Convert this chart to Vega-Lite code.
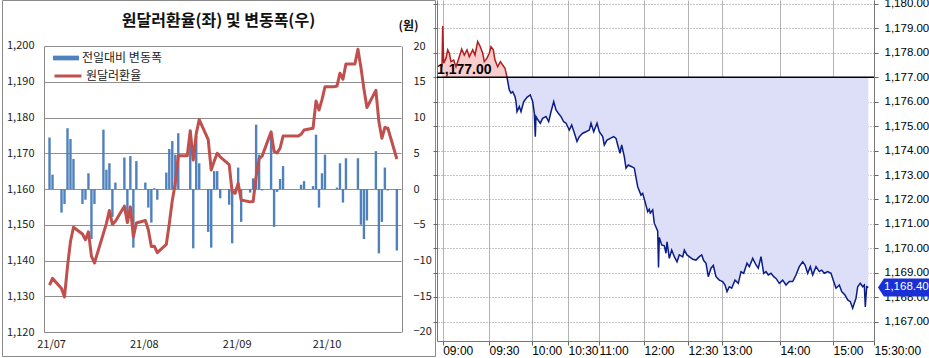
{
  "$schema": "https://vega.github.io/schema/vega-lite/v6.json",
  "background": "white",
  "padding": {"left": 1, "top": -3, "right": 0, "bottom": 0},
  "bounds": "flush",
  "spacing": 2,
  "config": {"view": {"stroke": null}},
  "datasets": {
    "krw": [
      {"d": "2021-07-01T12:00:00Z", "r": 1133.1, "c": 7.2},
      {"d": "2021-07-02T12:00:00Z", "r": 1135.0, "c": 2.0},
      {"d": "2021-07-05T12:00:00Z", "r": 1132.2, "c": -3.3},
      {"d": "2021-07-06T12:00:00Z", "r": 1129.8, "c": -2.1},
      {"d": "2021-07-07T12:00:00Z", "r": 1138.3, "c": 8.5},
      {"d": "2021-07-08T12:00:00Z", "r": 1145.3, "c": 7.0},
      {"d": "2021-07-09T12:00:00Z", "r": 1149.3, "c": 4.2},
      {"d": "2021-07-12T12:00:00Z", "r": 1147.4, "c": -2.1},
      {"d": "2021-07-13T12:00:00Z", "r": 1145.8, "c": -1.5},
      {"d": "2021-07-14T12:00:00Z", "r": 1148.0, "c": 2.2},
      {"d": "2021-07-15T12:00:00Z", "r": 1141.2, "c": -7.0},
      {"d": "2021-07-16T12:00:00Z", "r": 1139.3, "c": -2.1},
      {"d": "2021-07-19T12:00:00Z", "r": 1147.6, "c": 8.3},
      {"d": "2021-07-20T12:00:00Z", "r": 1150.4, "c": 2.7},
      {"d": "2021-07-21T12:00:00Z", "r": 1154.0, "c": 3.6},
      {"d": "2021-07-22T12:00:00Z", "r": 1150.1, "c": -3.9},
      {"d": "2021-07-23T12:00:00Z", "r": 1151.0, "c": 0.9},
      {"d": "2021-07-26T12:00:00Z", "r": 1155.2, "c": 4.4},
      {"d": "2021-07-27T12:00:00Z", "r": 1150.6, "c": -4.6},
      {"d": "2021-07-28T12:00:00Z", "r": 1155.0, "c": 4.6},
      {"d": "2021-07-29T12:00:00Z", "r": 1146.6, "c": -8.2},
      {"d": "2021-07-30T12:00:00Z", "r": 1150.5, "c": 3.9},
      {"d": "2021-08-02T12:00:00Z", "r": 1151.2, "c": 0.9},
      {"d": "2021-08-03T12:00:00Z", "r": 1148.6, "c": -2.6},
      {"d": "2021-08-04T12:00:00Z", "r": 1143.9, "c": -4.7},
      {"d": "2021-08-05T12:00:00Z", "r": 1144.0, "c": 0.1},
      {"d": "2021-08-06T12:00:00Z", "r": 1142.2, "c": -1.5},
      {"d": "2021-08-09T12:00:00Z", "r": 1144.5, "c": 2.3},
      {"d": "2021-08-10T12:00:00Z", "r": 1150.3, "c": 5.6},
      {"d": "2021-08-11T12:00:00Z", "r": 1156.8, "c": 6.7},
      {"d": "2021-08-12T12:00:00Z", "r": 1161.5, "c": 4.8},
      {"d": "2021-08-13T12:00:00Z", "r": 1169.3, "c": 7.8},
      {"d": "2021-08-16T12:00:00Z", "r": 1169.3},
      {"d": "2021-08-17T12:00:00Z", "r": 1176.3, "c": 7.0},
      {"d": "2021-08-18T12:00:00Z", "r": 1168.1, "c": -8.3},
      {"d": "2021-08-19T12:00:00Z", "r": 1175.5, "c": 7.4},
      {"d": "2021-08-20T12:00:00Z", "r": 1179.4, "c": 3.6},
      {"d": "2021-08-23T12:00:00Z", "r": 1173.8, "c": -6.0},
      {"d": "2021-08-24T12:00:00Z", "r": 1165.3, "c": -8.2},
      {"d": "2021-08-25T12:00:00Z", "r": 1167.8, "c": 2.5},
      {"d": "2021-08-26T12:00:00Z", "r": 1170.0, "c": 2.5},
      {"d": "2021-08-27T12:00:00Z", "r": 1169.0, "c": -1.3},
      {"d": "2021-08-30T12:00:00Z", "r": 1166.8, "c": -2.2},
      {"d": "2021-08-31T12:00:00Z", "r": 1159.2, "c": -7.6},
      {"d": "2021-09-01T12:00:00Z", "r": 1158.8, "c": -0.5},
      {"d": "2021-09-02T12:00:00Z", "r": 1161.6, "c": 3.0},
      {"d": "2021-09-03T12:00:00Z", "r": 1156.9, "c": -4.6},
      {"d": "2021-09-06T12:00:00Z", "r": 1156.4, "c": -0.5},
      {"d": "2021-09-07T12:00:00Z", "r": 1156.5, "c": 1.5},
      {"d": "2021-09-08T12:00:00Z", "r": 1163.5, "c": 9.0},
      {"d": "2021-09-09T12:00:00Z", "r": 1168.5, "c": 4.8},
      {"d": "2021-09-10T12:00:00Z", "r": 1169.2, "c": -0.2},
      {"d": "2021-09-13T12:00:00Z", "r": 1176.0, "c": 7.8},
      {"d": "2021-09-14T12:00:00Z", "r": 1170.5, "c": -5.3},
      {"d": "2021-09-15T12:00:00Z", "r": 1170.1, "c": -0.4},
      {"d": "2021-09-16T12:00:00Z", "r": 1171.4, "c": 1.4},
      {"d": "2021-09-17T12:00:00Z", "r": 1174.8, "c": 3.2},
      {"d": "2021-09-20T12:00:00Z", "r": 1174.8},
      {"d": "2021-09-21T12:00:00Z", "r": 1174.8},
      {"d": "2021-09-22T12:00:00Z", "r": 1174.8},
      {"d": "2021-09-23T12:00:00Z", "r": 1175.3, "c": 0.6},
      {"d": "2021-09-24T12:00:00Z", "r": 1176.5, "c": 1.1},
      {"d": "2021-09-27T12:00:00Z", "r": 1177.0, "c": 0.4},
      {"d": "2021-09-28T12:00:00Z", "r": 1184.6, "c": 7.6},
      {"d": "2021-09-29T12:00:00Z", "r": 1182.1, "c": -2.6},
      {"d": "2021-09-30T12:00:00Z", "r": 1185.0, "c": 2.2},
      {"d": "2021-10-01T12:00:00Z", "r": 1188.6, "c": 4.8},
      {"d": "2021-10-04T12:00:00Z", "r": 1188.6},
      {"d": "2021-10-05T12:00:00Z", "r": 1188.8, "c": 0.2},
      {"d": "2021-10-06T12:00:00Z", "r": 1192.4, "c": 3.6},
      {"d": "2021-10-07T12:00:00Z", "r": 1190.7, "c": -1.9},
      {"d": "2021-10-08T12:00:00Z", "r": 1195.0, "c": 4.3},
      {"d": "2021-10-11T12:00:00Z", "r": 1195.0},
      {"d": "2021-10-12T12:00:00Z", "r": 1199.1, "c": 4.3},
      {"d": "2021-10-13T12:00:00Z", "r": 1194.0, "c": -5.0},
      {"d": "2021-10-14T12:00:00Z", "r": 1188.0, "c": -7.0},
      {"d": "2021-10-15T12:00:00Z", "r": 1182.8, "c": -4.4},
      {"d": "2021-10-18T12:00:00Z", "r": 1187.6, "c": 5.3},
      {"d": "2021-10-19T12:00:00Z", "r": 1178.8, "c": -9.0},
      {"d": "2021-10-20T12:00:00Z", "r": 1174.2, "c": -4.6},
      {"d": "2021-10-21T12:00:00Z", "r": 1177.2, "c": 3.0},
      {"d": "2021-10-22T12:00:00Z", "r": 1177.0, "c": -0.2},
      {"d": "2021-10-25T12:00:00Z", "r": 1168.4, "c": -8.6}
    ],
    "fx": [
      {"t": 5.0, "v": 1177.43, "s": "up"}, {"t": 5.7, "v": 1179.10, "s": "up"}, {"t": 6.7, "v": 1177.57, "s": "up"},
      {"t": 9.0, "v": 1177.78, "s": "up"}, {"t": 10.7, "v": 1178.12, "s": "up"}, {"t": 12.3, "v": 1177.98, "s": "up"},
      {"t": 14.0, "v": 1177.64, "s": "up"}, {"t": 16.7, "v": 1177.70, "s": "up"}, {"t": 19.0, "v": 1177.43, "s": "up"},
      {"t": 22.3, "v": 1177.84, "s": "up"}, {"t": 24.7, "v": 1178.15, "s": "up"}, {"t": 27.3, "v": 1177.91, "s": "up"},
      {"t": 30.0, "v": 1178.12, "s": "up"}, {"t": 32.3, "v": 1177.84, "s": "up"}, {"t": 35.7, "v": 1178.12, "s": "up"},
      {"t": 38.0, "v": 1177.91, "s": "up"}, {"t": 40.7, "v": 1178.46, "s": "up"}, {"t": 43.3, "v": 1178.25, "s": "up"},
      {"t": 45.7, "v": 1177.98, "s": "up"}, {"t": 47.3, "v": 1177.64, "s": "up"}, {"t": 50.0, "v": 1177.78, "s": "up"},
      {"t": 52.3, "v": 1177.98, "s": "up"}, {"t": 54.0, "v": 1178.25, "s": "up"}, {"t": 56.3, "v": 1178.12, "s": "up"},
      {"t": 58.0, "v": 1177.70, "s": "up"}, {"t": 60.7, "v": 1177.43, "s": "up"}, {"t": 63.3, "v": 1177.64, "s": "up"},
      {"t": 65.7, "v": 1177.50, "s": "up"}, {"t": 68.0, "v": 1177.37, "s": "up"}, {"t": 70.0, "v": 1177.0, "s": "up"},
      {"t": 70.0, "v": 1177.0, "s": "dn"}, {"t": 72.3, "v": 1176.48, "s": "dn"}, {"t": 74.0, "v": 1176.35, "s": "dn"},
      {"t": 75.7, "v": 1176.41, "s": "dn"}, {"t": 78.0, "v": 1176.21, "s": "dn"}, {"t": 79.0, "v": 1176.0, "s": "dn"},
      {"t": 80.0, "v": 1175.59, "s": "dn"}, {"t": 82.3, "v": 1175.80, "s": "dn"}, {"t": 84.0, "v": 1175.59, "s": "dn"},
      {"t": 86.7, "v": 1176.0, "s": "dn"}, {"t": 90.0, "v": 1176.18, "s": "dn"}, {"t": 93.3, "v": 1176.28, "s": "dn"},
      {"t": 95.7, "v": 1176.0, "s": "dn"}, {"t": 97.3, "v": 1175.53, "s": "dn"}, {"t": 98.3, "v": 1174.57, "s": "dn"},
      {"t": 99.0, "v": 1175.39, "s": "dn"}, {"t": 101.0, "v": 1175.25, "s": "dn"}, {"t": 103.3, "v": 1175.12, "s": "dn"},
      {"t": 105.7, "v": 1175.32, "s": "dn"}, {"t": 109.0, "v": 1175.39, "s": "dn"}, {"t": 111.7, "v": 1175.18, "s": "dn"},
      {"t": 114.0, "v": 1175.59, "s": "dn"}, {"t": 116.7, "v": 1176.0, "s": "dn"}, {"t": 119.0, "v": 1175.66, "s": "dn"},
      {"t": 121.3, "v": 1175.53, "s": "dn"}, {"t": 124.0, "v": 1175.39, "s": "dn"}, {"t": 126.7, "v": 1175.18, "s": "dn"},
      {"t": 129.0, "v": 1175.12, "s": "dn"}, {"t": 132.3, "v": 1174.84, "s": "dn"}, {"t": 134.7, "v": 1175.05, "s": "dn"},
      {"t": 138.0, "v": 1174.64, "s": "dn"}, {"t": 140.0, "v": 1174.37, "s": "dn"}, {"t": 142.3, "v": 1174.57, "s": "dn"},
      {"t": 145.7, "v": 1174.71, "s": "dn"}, {"t": 149.0, "v": 1174.77, "s": "dn"}, {"t": 152.3, "v": 1174.84, "s": "dn"},
      {"t": 154.0, "v": 1175.12, "s": "dn"}, {"t": 156.7, "v": 1174.77, "s": "dn"}, {"t": 160.0, "v": 1175.12, "s": "dn"},
      {"t": 162.3, "v": 1174.77, "s": "dn"}, {"t": 165.7, "v": 1174.57, "s": "dn"}, {"t": 167.3, "v": 1174.23, "s": "dn"},
      {"t": 170.0, "v": 1174.43, "s": "dn"}, {"t": 173.3, "v": 1174.50, "s": "dn"}, {"t": 176.7, "v": 1174.57, "s": "dn"},
      {"t": 179.0, "v": 1174.50, "s": "dn"}, {"t": 180.7, "v": 1174.23, "s": "dn"}, {"t": 183.0, "v": 1173.89, "s": "dn"},
      {"t": 184.7, "v": 1174.23, "s": "dn"}, {"t": 187.3, "v": 1173.75, "s": "dn"}, {"t": 189.0, "v": 1173.28, "s": "dn"},
      {"t": 191.3, "v": 1173.41, "s": "dn"}, {"t": 194.7, "v": 1173.34, "s": "dn"}, {"t": 197.3, "v": 1173.28, "s": "dn"},
      {"t": 200.7, "v": 1172.52, "s": "dn"}, {"t": 204.0, "v": 1172.18, "s": "dn"}, {"t": 205.7, "v": 1172.25, "s": "dn"},
      {"t": 208.0, "v": 1171.91, "s": "dn"}, {"t": 210.7, "v": 1171.50, "s": "dn"}, {"t": 212.3, "v": 1171.60, "s": "dn"},
      {"t": 213.3, "v": 1171.44, "s": "dn"}, {"t": 215.7, "v": 1171.57, "s": "dn"}, {"t": 217.3, "v": 1171.03, "s": "dn"},
      {"t": 220.7, "v": 1170.70, "s": "dn"}, {"t": 221.5, "v": 1169.22, "s": "dn"}, {"t": 222.3, "v": 1170.45, "s": "dn"},
      {"t": 224.7, "v": 1170.14, "s": "dn"}, {"t": 227.3, "v": 1170.10, "s": "dn"}, {"t": 229.0, "v": 1169.80, "s": "dn"},
      {"t": 230.0, "v": 1170.27, "s": "dn"}, {"t": 232.3, "v": 1169.59, "s": "dn"}, {"t": 234.7, "v": 1169.93, "s": "dn"},
      {"t": 237.3, "v": 1169.66, "s": "dn"}, {"t": 240.0, "v": 1169.45, "s": "dn"}, {"t": 242.3, "v": 1169.73, "s": "dn"},
      {"t": 245.7, "v": 1169.65, "s": "dn"}, {"t": 247.3, "v": 1169.93, "s": "dn"}, {"t": 250.0, "v": 1169.73, "s": "dn"},
      {"t": 252.3, "v": 1169.66, "s": "dn"}, {"t": 255.7, "v": 1169.55, "s": "dn"}, {"t": 259.0, "v": 1169.52, "s": "dn"},
      {"t": 262.3, "v": 1169.66, "s": "dn"}, {"t": 264.7, "v": 1169.73, "s": "dn"}, {"t": 266.7, "v": 1169.50, "s": "dn"},
      {"t": 269.0, "v": 1169.39, "s": "dn"}, {"t": 271.3, "v": 1168.84, "s": "dn"}, {"t": 274.0, "v": 1169.19, "s": "dn"},
      {"t": 276.3, "v": 1169.30, "s": "dn"}, {"t": 279.0, "v": 1168.84, "s": "dn"}, {"t": 282.3, "v": 1168.70, "s": "dn"},
      {"t": 285.7, "v": 1168.64, "s": "dn"}, {"t": 288.0, "v": 1168.50, "s": "dn"}, {"t": 290.0, "v": 1168.23, "s": "dn"},
      {"t": 292.3, "v": 1168.43, "s": "dn"}, {"t": 294.7, "v": 1168.37, "s": "dn"}, {"t": 298.0, "v": 1168.70, "s": "dn"},
      {"t": 301.3, "v": 1168.57, "s": "dn"}, {"t": 304.0, "v": 1169.05, "s": "dn"}, {"t": 306.7, "v": 1168.98, "s": "dn"},
      {"t": 310.0, "v": 1169.39, "s": "dn"}, {"t": 312.3, "v": 1169.25, "s": "dn"}, {"t": 315.7, "v": 1169.59, "s": "dn"},
      {"t": 319.0, "v": 1169.32, "s": "dn"}, {"t": 321.3, "v": 1169.19, "s": "dn"}, {"t": 324.0, "v": 1169.66, "s": "dn"},
      {"t": 326.7, "v": 1168.98, "s": "dn"}, {"t": 329.0, "v": 1169.05, "s": "dn"}, {"t": 331.3, "v": 1168.91, "s": "dn"},
      {"t": 334.0, "v": 1168.98, "s": "dn"}, {"t": 336.7, "v": 1168.84, "s": "dn"}, {"t": 339.0, "v": 1168.77, "s": "dn"},
      {"t": 342.3, "v": 1168.57, "s": "dn"}, {"t": 345.7, "v": 1168.70, "s": "dn"}, {"t": 349.0, "v": 1168.50, "s": "dn"},
      {"t": 352.3, "v": 1168.64, "s": "dn"}, {"t": 355.7, "v": 1168.64, "s": "dn"}, {"t": 359.0, "v": 1168.91, "s": "dn"},
      {"t": 362.3, "v": 1169.25, "s": "dn"}, {"t": 365.7, "v": 1169.45, "s": "dn"}, {"t": 368.0, "v": 1169.32, "s": "dn"},
      {"t": 370.7, "v": 1168.98, "s": "dn"}, {"t": 373.3, "v": 1169.25, "s": "dn"}, {"t": 375.7, "v": 1168.91, "s": "dn"},
      {"t": 379.0, "v": 1169.25, "s": "dn"}, {"t": 382.3, "v": 1169.05, "s": "dn"}, {"t": 384.7, "v": 1169.11, "s": "dn"},
      {"t": 387.3, "v": 1168.98, "s": "dn"}, {"t": 390.7, "v": 1169.05, "s": "dn"}, {"t": 394.0, "v": 1168.98, "s": "dn"},
      {"t": 396.7, "v": 1168.64, "s": "dn"}, {"t": 399.0, "v": 1168.37, "s": "dn"}, {"t": 402.3, "v": 1168.50, "s": "dn"},
      {"t": 404.7, "v": 1168.23, "s": "dn"}, {"t": 408.0, "v": 1168.09, "s": "dn"}, {"t": 410.7, "v": 1167.89, "s": "dn"},
      {"t": 413.3, "v": 1167.82, "s": "dn"}, {"t": 415.7, "v": 1167.55, "s": "dn"}, {"t": 417.3, "v": 1167.75, "s": "dn"},
      {"t": 419.0, "v": 1167.96, "s": "dn"}, {"t": 420.7, "v": 1168.43, "s": "dn"}, {"t": 423.3, "v": 1168.57, "s": "dn"},
      {"t": 425.7, "v": 1168.43, "s": "dn"}, {"t": 427.3, "v": 1168.50, "s": "dn"}, {"t": 428.3, "v": 1167.60, "s": "dn"},
      {"t": 429.7, "v": 1168.43, "s": "dn"}, {"t": 431.3, "v": 1168.40, "s": "dn"}
    ]
  },
  "hconcat": [
    {
      "width": 433,
      "height": 356,
      "view": {"stroke": "#8a8a8a", "strokeWidth": 1},
      "title": {"text": "원달러환율(좌) 및 변동폭(우)", "offset": -29, "font": "Noto Sans CJK KR", "fontSize": 16, "fontWeight": "bold", "color": "#111111", "anchor": "middle"},
      "data": {"name": "krw"},
      "encoding": {
        "x": {
          "field": "d", "type": "temporal",
          "scale": {"type": "utc", "domain": [{"year": 2021, "month": 6, "date": 17, "hours": 7, "minutes": 10, "utc": true}, {"year": 2021, "month": 11, "date": 5, "hours": 13, "minutes": 40, "utc": true}]},
          "axis": {
            "orient": "bottom", "offset": -24, "title": null, "grid": false, "ticks": false,
            "values": [{"year": 2021, "month": 7, "date": 1, "utc": true}, {"year": 2021, "month": 8, "date": 1, "utc": true}, {"year": 2021, "month": 9, "date": 1, "utc": true}, {"year": 2021, "month": 10, "date": 1, "utc": true}],
            "format": "%y/%m", "labelPadding": 6, "labelOffset": 3, "labelFont": "Noto Sans CJK KR", "labelFontSize": 11, "labelColor": "#222222",
            "domainColor": "#8a8a8a", "domainDash": [357, 1000], "domainDashOffset": 1315
          }
        }
      },
      "layer": [
        {
          "mark": {"type": "bar", "size": 2.4},
          "encoding": {
            "y": {
              "field": "c", "type": "quantitative",
              "scale": {"domain": [-23.357, 26.434], "nice": false},
              "axis": {
                "orient": "right", "offset": -33, "values": [-20, -15, -10, -5, 0, 5, 10, 15, 20], "grid": false, "ticks": false,
                "labelPadding": 11, "labelAlign": "left", "labelFont": "Noto Sans CJK KR", "labelFontSize": 11, "labelColor": "#222222",
                "title": "(원)", "titleAngle": 0, "titleX": 6, "titleY": 25, "titleAlign": "center", "titleBaseline": "middle",
                "titleFont": "Noto Sans CJK KR", "titleFontSize": 12, "titleFontWeight": "bold", "titleColor": "#111111",
                "domainColor": "#8a8a8a", "domainDash": [286, 1000], "domainDashOffset": 1262
              }
            },
            "fill": {
              "datum": "전일대비 변동폭", "type": "nominal",
              "scale": {"range": ["#4f81bd"]},
              "legend": {"orient": "none", "legendX": 51, "legendY": 45, "title": null, "padding": 0, "symbolType": "M-1,-0.18L1,-0.18L1,0.18L-1,0.18Z", "symbolSize": 676, "symbolStrokeWidth": 0, "labelOffset": 3, "labelFont": "Noto Sans CJK KR", "labelFontSize": 12, "labelColor": "#222222"}
            }
          }
        },
        {
          "mark": {"type": "line", "strokeWidth": 3, "strokeJoin": "round"},
          "encoding": {
            "y": {
              "field": "r", "type": "quantitative",
              "scale": {"domain": [1113.287, 1212.867], "nice": false, "zero": false},
              "axis": {
                "orient": "left", "offset": -42, "values": [1120, 1130, 1140, 1150, 1160, 1170, 1180, 1190, 1200], "format": ",d",
                "grid": true, "gridColor": "#8f8f8f", "gridDash": [357, 1000], "gridDashOffset": 1315, "ticks": false,
                "labelPadding": 10, "labelFont": "Noto Sans CJK KR", "labelFontSize": 11, "labelColor": "#222222", "title": null,
                "domainColor": "#8a8a8a", "domainDash": [286, 1000], "domainDashOffset": 1262
              }
            },
            "stroke": {
              "datum": "원달러환율", "type": "nominal",
              "scale": {"range": ["#c0504d"]},
              "legend": {"orient": "none", "legendX": 51, "legendY": 61, "title": null, "padding": 0, "symbolType": "stroke", "symbolSize": 729, "symbolStrokeWidth": 3, "labelOffset": 3, "labelFont": "Noto Sans CJK KR", "labelFontSize": 12, "labelColor": "#222222"}
            }
          }
        }
      ],
      "resolve": {"scale": {"y": "independent"}}
    },
    {
      "width": 437,
      "height": 341,
      "data": {"name": "fx"},
      "layer": [
        {
          "transform": [{"filter": "datum.s == 'up'"}],
          "mark": {"type": "area", "color": "#f7cdcd", "opacity": 1},
          "encoding": {
            "x": {
              "field": "t", "type": "quantitative", "scale": {"domain": [0, 437], "nice": false, "zero": false},
              "axis": {
                "orient": "bottom", "title": null, "values": [5.7, 52, 94.7, 131, 162, 207, 251, 285, 343, 396, 437],
                "labelExpr": "datum.value == 5.7 ? '09:00' : datum.value == 52 ? '09:30' : datum.value == 94.7 ? '10:00' : datum.value == 131 ? '10:30' : datum.value == 162 ? '11:00' : datum.value == 207 ? '12:00' : datum.value == 251 ? '12:30' : datum.value == 285 ? '13:00' : datum.value == 343 ? '14:00' : datum.value == 396 ? '15:00' : '15:30:00'",
                "grid": true, "gridColor": "#b4b4b4", "gridWidth": 1, "ticks": true, "tickSize": 4, "tickColor": "#666666",
                "domainColor": "#777777", "labelAlign": "left", "labelPadding": 0, "labelFlush": false, "labelOverlap": false,
                "labelFont": "Liberation Sans Narrow, Liberation Sans", "labelFontSize": 12, "labelColor": "#000000"
              }
            },
            "y": {
              "field": "v", "type": "quantitative", "scale": {"domain": [1166.21, 1180.16], "nice": false, "zero": false},
              "axis": {
                "orient": "right", "title": null, "values": [1167, 1168, 1169, 1170, 1171, 1172, 1173, 1174, 1175, 1176, 1177, 1178, 1179, 1180],
                "format": ",.2f", "grid": true, "gridDash": [1, 2], "gridColor": "#8c8c8c", "ticks": true, "tickSize": 4, "tickColor": "#666666",
                "domainColor": "#777777", "labelPadding": 6, "labelFlush": false, "labelOverlap": false,
                "labelFont": "Liberation Sans Narrow, Liberation Sans", "labelFontSize": 11.5, "labelColor": "#000000"
              }
            },
            "y2": {"datum": 1177}
          }
        },
        {
          "transform": [{"filter": "datum.s == 'dn'"}],
          "mark": {"type": "area", "color": "#dcdff7", "opacity": 1},
          "encoding": {
            "x": {"field": "t", "type": "quantitative", "scale": {"domain": [0, 437], "nice": false, "zero": false}},
            "y": {
              "field": "v", "type": "quantitative", "scale": {"domain": [1166.21, 1180.16], "nice": false, "zero": false},
              "axis": {"orient": "left", "title": null, "labels": false, "grid": false, "ticks": true, "tickSize": 4, "tickColor": "#666666", "domainColor": "#777777", "values": [1167, 1168, 1169, 1170, 1171, 1172, 1173, 1174, 1175, 1176, 1177, 1178, 1179, 1180]}
            },
            "y2": {"datum": 1177}
          }
        },
        {
          "mark": {"type": "line", "strokeWidth": 1.5},
          "encoding": {
            "x": {"field": "t", "type": "quantitative", "scale": {"domain": [0, 437], "nice": false, "zero": false}},
            "y": {"field": "v", "type": "quantitative", "scale": {"domain": [1166.21, 1180.16], "nice": false, "zero": false}, "axis": null},
            "color": {"field": "s", "type": "nominal", "scale": {"domain": ["up", "dn"], "range": ["#b01e1e", "#0b1d87"]}, "legend": null}
          }
        },
        {
          "data": {"values": [{"v": 1177}]},
          "mark": {"type": "rule", "color": "#000000", "strokeWidth": 1.5},
          "encoding": {
            "y": {"field": "v", "type": "quantitative", "scale": {"domain": [1166.21, 1180.16], "nice": false, "zero": false}, "axis": null}
          }
        },
        {
          "data": {"values": [{"v": 1177, "label": "1,177.00"}]},
          "mark": {"type": "text", "align": "left", "baseline": "bottom", "dx": 0, "dy": 0, "font": "Liberation Sans Narrow, Liberation Sans", "fontSize": 14, "fontWeight": "bold", "color": "#000000"},
          "encoding": {
            "x": {"datum": 0, "type": "quantitative", "scale": {"domain": [0, 437], "nice": false, "zero": false}},
            "y": {"field": "v", "type": "quantitative", "scale": {"domain": [1166.21, 1180.16], "nice": false, "zero": false}, "axis": null},
            "text": {"field": "label"}
          }
        },
        {
          "data": {"values": [{"v": 1168.4, "label": "1,168.40"}]},
          "mark": {"type": "point", "shape": "M0.44,0L1.1,-1L6.8,-1L6.8,1L1.1,1Z", "size": 324, "filled": true, "color": "#1a2fd6", "opacity": 1, "strokeWidth": 0},
          "encoding": {
            "x": {"datum": 437, "type": "quantitative", "scale": {"domain": [0, 437], "nice": false, "zero": false}},
            "y": {"field": "v", "type": "quantitative", "scale": {"domain": [1166.21, 1180.16], "nice": false, "zero": false}, "axis": null}
          }
        },
        {
          "data": {"values": [{"v": 1168.4, "label": "1,168.40"}]},
          "mark": {"type": "text", "align": "left", "baseline": "middle", "dx": 10, "font": "Liberation Sans Narrow, Liberation Sans", "fontSize": 11.5, "color": "#ffffff"},
          "encoding": {
            "x": {"datum": 437, "type": "quantitative", "scale": {"domain": [0, 437], "nice": false, "zero": false}},
            "y": {"field": "v", "type": "quantitative", "scale": {"domain": [1166.21, 1180.16], "nice": false, "zero": false}, "axis": null},
            "text": {"field": "label"}
          }
        }
      ],
      "resolve": {"axis": {"y": "independent"}}
    }
  ]
}
